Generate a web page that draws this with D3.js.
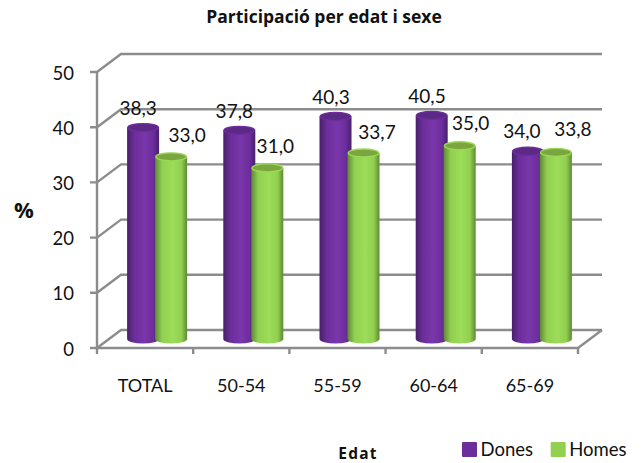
<!DOCTYPE html>
<html lang="en">
<head>
<meta charset="UTF-8"/>
<title>Participació per edat i sexe</title>
<style>
  * { margin: 0; padding: 0; }
  body { background: #fff; }
  svg { display: block; font-family: Lato, "Open Sans", sans-serif; }
  text { fill: #111; }
  .bold { font-family: "Open Sans", sans-serif; font-weight: 700; }
</style>
<script src="https://cdn.jsdelivr.net/npm/d3@7/dist/d3.min.js"></script>
</head>
<body>
<svg id="chart" width="644" height="463"></svg>
<script>
const categories = ['TOTAL', '50-54', '55-59', '60-64', '65-69']
const dones = [38.3, 37.8, 40.3, 40.5, 34.0]
const homes = [33.0, 31.0, 33.7, 35.0, 33.8]
const valueTicks = [0, 10, 20, 30, 40, 50]

const seriesList = [
  { name: 'Dones', values: dones, side: 0, base: '#6b2e9b', dark: '#47206a', light: '#7a36ab', top: '#5c2985', rim: '#6c2e9c' },
  { name: 'Homes', values: homes, side: 1, base: '#92d050', dark: '#5f8a32', light: '#9cdc58', top: '#7ba63f', rim: '#9ad957' },
]

// label nudges relative to the bar top, the original places these by hand
const labelNudge = {
  Dones: [[-5, -17.5], [-5, -17.5], [-4.5, -17.5], [-4.7, -17.5], [-6, -18]],
  Homes: [[16, -20], [8, -20], [13.5, -19], [11, -21], [17, -21]],
}

const svg = d3.select('#chart')
const fmt = v => v.toFixed(1).replace('.', ',')

// front plane of the 3d box, back wall sits at +depthX / -depthY
const depthX = 24, depthY = 18
const x = d3.scaleBand().domain(categories).range([97, 578])
const y = d3.scaleLinear().domain([0, 50]).range([348, 72])
const barW = 32, barOverlap = 4, ry = 4.5

// --- gradients ---
const defs = svg.append('defs')
for (const s of seriesList) {
  const g = defs.append('linearGradient').attr('id', 'grad-' + s.name)
  g.append('stop').attr('offset', '0%').attr('stop-color', s.dark)
  g.append('stop').attr('offset', '22%').attr('stop-color', s.base)
  g.append('stop').attr('offset', '55%').attr('stop-color', s.light)
  g.append('stop').attr('offset', '82%').attr('stop-color', s.base)
  g.append('stop').attr('offset', '100%').attr('stop-color', s.dark)
}

// --- walls and gridlines ---
const gridColor = '#8c8c8c'
const box = svg.append('g').attr('stroke', gridColor).attr('stroke-width', 2.4).attr('fill', 'none')

box.selectAll('.grid').data(valueTicks).join('path')
  .attr('class', 'grid')
  .attr('d', d => `M${x.range()[0] - 7},${y(d)}H${x.range()[0]}L${x.range()[0] + depthX},${y(d) - depthY}H${x.range()[1] + depthX}`)

box.append('path').attr('d', `M${x.range()[0]},${y(50)}V${y(0)}H${x.range()[1]}L${x.range()[1] + depthX},${y(0) - depthY}`)

box.selectAll('.xtick').data([...categories.map(c => x(c)), x.range()[1]]).join('path')
  .attr('class', 'xtick')
  .attr('d', d => `M${d},${y(0)}v6`)

// --- cylinders ---
const barCx = (cat, side) => x(cat) + x.bandwidth() / 2 + (side === 0 ? -1 : 1) * (barW - barOverlap) / 2 + depthX / 2
const barY = v => y(v) - depthY / 2

categories.forEach((cat, i) => {
  for (const s of seriesList) {
    const cx = barCx(cat, s.side)
    const top = barY(s.values[i]), bottom = barY(0)
    const g = svg.append('g')
    g.append('path')
      .attr('d', `M${cx - barW / 2},${top}V${bottom}A${barW / 2},${ry} 0 0 0 ${cx + barW / 2},${bottom}V${top}Z`)
      .attr('fill', `url(#grad-${s.name})`)
    g.append('ellipse')
      .attr('cx', cx).attr('cy', top)
      .attr('rx', barW / 2 - 0.7).attr('ry', ry - 0.5)
      .attr('fill', s.top).attr('stroke', s.rim).attr('stroke-width', 1.4)
  }
})

// --- data labels ---
categories.forEach((cat, i) => {
  for (const s of seriesList) {
    const [dx, dy] = labelNudge[s.name][i]
    svg.append('text')
      .attr('x', barCx(cat, s.side) + dx)
      .attr('y', barY(s.values[i]) + dy)
      .attr('text-anchor', 'middle').attr('dominant-baseline', 'middle')
      .attr('font-size', 19)
      .text(fmt(s.values[i]))
  }
})

// --- axis text ---
svg.selectAll('.vlabel').data(valueTicks).join('text')
  .attr('class', 'vlabel')
  .attr('x', 74).attr('y', d => y(d) + 3)
  .attr('text-anchor', 'end').attr('dominant-baseline', 'middle')
  .attr('font-size', 18.5)
  .text(d => d)

svg.selectAll('.clabel').data(categories).join('text')
  .attr('class', 'clabel')
  .attr('x', d => x(d) + x.bandwidth() / 2)
  .attr('y', 387)
  .attr('text-anchor', 'middle').attr('dominant-baseline', 'middle')
  .attr('font-size', 18)
  .text(d => d)

svg.append('text').attr('class', 'bold').attr('x', 324).attr('y', 18)
  .attr('text-anchor', 'middle').attr('dominant-baseline', 'middle')
  .attr('font-size', 17.5)
  .text('Participació per edat i sexe')

svg.append('text').attr('class', 'bold').attr('x', 24).attr('y', 212)
  .attr('text-anchor', 'middle').attr('dominant-baseline', 'middle')
  .attr('font-size', 22)
  .text('%')

svg.append('text').attr('class', 'bold').attr('x', 358).attr('y', 458.5)
  .attr('text-anchor', 'middle')
  .attr('font-size', 15.5).attr('letter-spacing', 1.2)
  .text('Edat')

// --- legend ---
const legend = svg.selectAll('.legend').data(seriesList).join('g')
  .attr('class', 'legend')
  .attr('transform', (d, i) => `translate(${462 + i * 88.7},442)`)
legend.append('rect').attr('width', 15).attr('height', 15).attr('rx', 1).attr('fill', d => d.base)
legend.append('text').attr('x', 18.5).attr('y', 9.5)
  .attr('dominant-baseline', 'middle').attr('font-size', 18.5)
  .text(d => d.name)
</script>
</body>
</html>
